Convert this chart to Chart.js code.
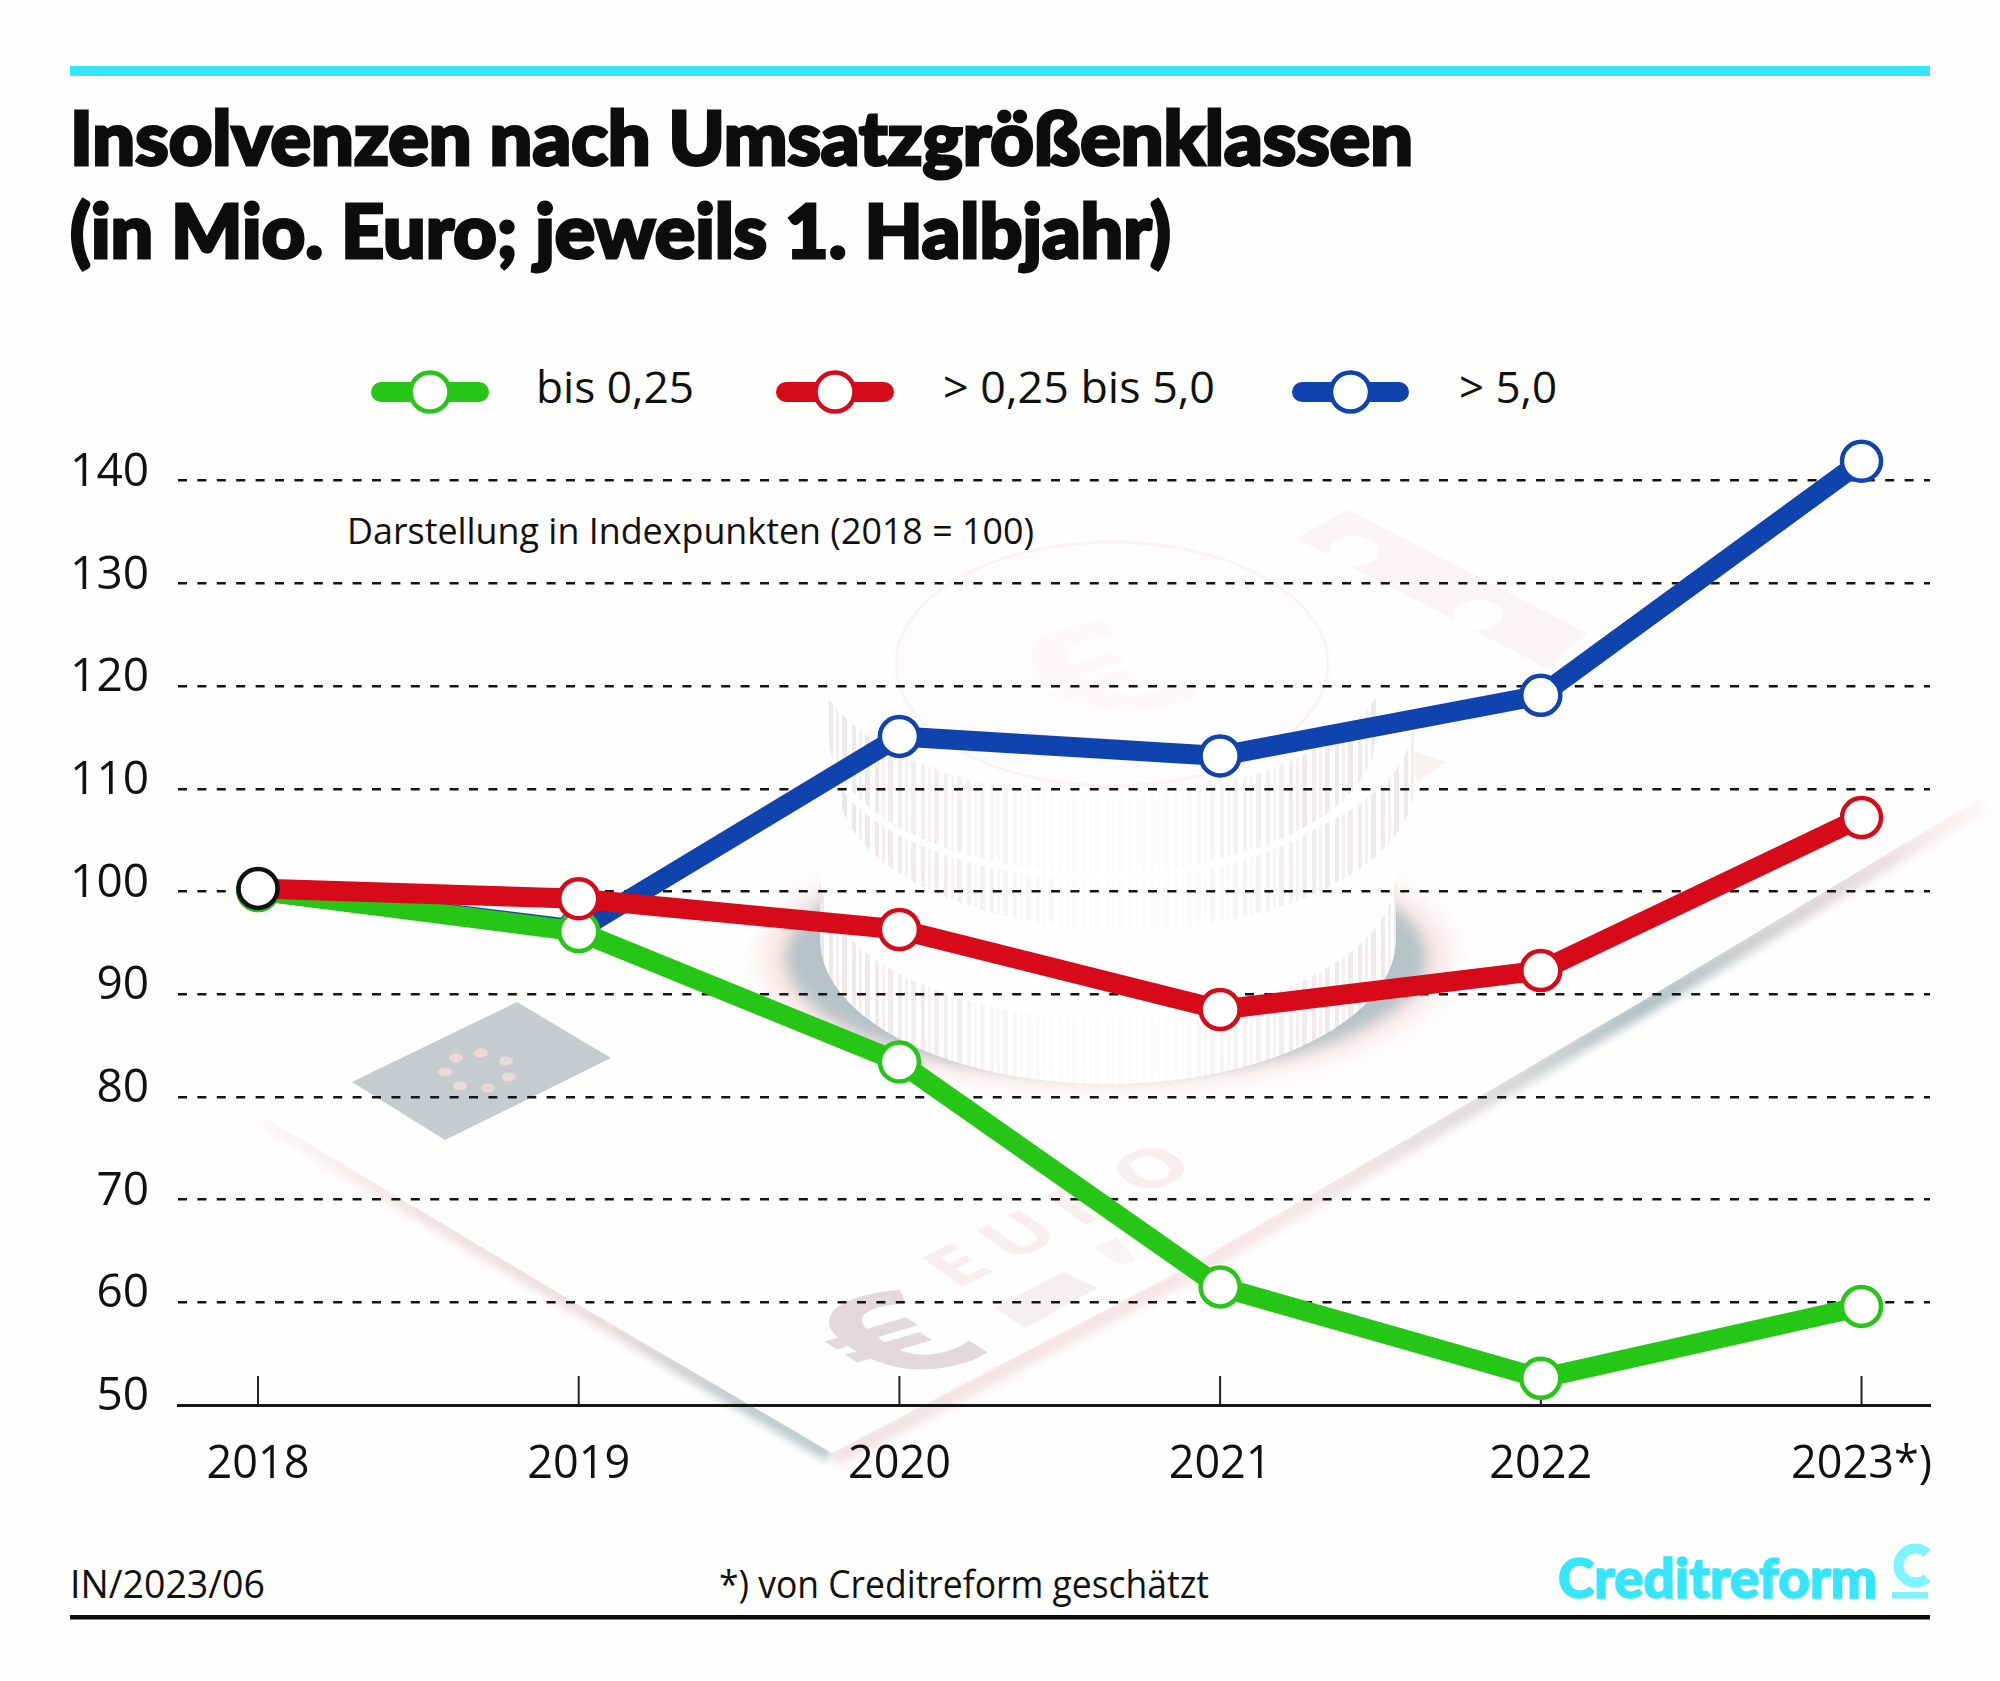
<!DOCTYPE html>
<html lang="de">
<head>
<meta charset="utf-8">
<title>Insolvenzen nach Umsatzgrößenklassen</title>
<script src="https://cdn.jsdelivr.net/npm/chart.js@4"></script>
<style>
  html, body { margin: 0; padding: 0; background: #fefefd; }
  #stage { position: relative; width: 2000px; height: 1681px; overflow: hidden; }
  #stage svg, #stage canvas { position: absolute; left: 0; top: 0; }
  .title { font: 900 74px Lato, sans-serif; fill: #0d0d0d; stroke: #0d0d0d; stroke-width: 3px; }
  .body { font-family: "Open Sans", sans-serif; fill: #111; }
</style>
</head>
<body>
<div id="stage">
  <svg id="art" width="2000" height="1681" viewBox="0 0 2000 1681" xmlns="http://www.w3.org/2000/svg">
    <defs>
      <filter id="blur3" x="-20%" y="-20%" width="140%" height="140%"><feGaussianBlur stdDeviation="5"/></filter>
      <filter id="blur6" x="-20%" y="-20%" width="140%" height="140%"><feGaussianBlur stdDeviation="7"/></filter>
      <filter id="blur14" x="-20%" y="-20%" width="140%" height="140%"><feGaussianBlur stdDeviation="12"/></filter>
      <pattern id="stripes" width="23" height="10" patternUnits="userSpaceOnUse">
        <rect width="23" height="10" fill="#fff"/>
        <rect x="1" width="4" height="10" fill="#e9d9da"/>
        <rect x="8" width="3" height="10" fill="#efe3e4"/>
        <rect x="14" width="5" height="10" fill="#e4dadc"/>
      </pattern>
      <linearGradient id="fade" x1="0" x2="1" y1="0" y2="0">
        <stop offset="0" stop-color="#fff" stop-opacity=".35"/>
        <stop offset=".18" stop-color="#fff" stop-opacity=".5"/>
        <stop offset=".42" stop-color="#fff" stop-opacity=".9"/>
        <stop offset=".6" stop-color="#fff" stop-opacity=".88"/>
        <stop offset=".85" stop-color="#fff" stop-opacity=".45"/>
        <stop offset="1" stop-color="#fff" stop-opacity=".4"/>
      </linearGradient>
      <linearGradient id="edgeL" gradientUnits="userSpaceOnUse" x1="266" y1="1118" x2="832" y2="1453">
        <stop offset="0" stop-color="#f0dcdc" stop-opacity=".2"/>
        <stop offset=".3" stop-color="#f0dfdf"/>
        <stop offset=".6" stop-color="#ecdcdc"/>
        <stop offset=".82" stop-color="#bcc8cb"/>
        <stop offset="1" stop-color="#b8c6c9"/>
      </linearGradient>
      <linearGradient id="edgeR" gradientUnits="userSpaceOnUse" x1="832" y1="1453" x2="1982" y2="797">
        <stop offset="0" stop-color="#f3e1e2"/>
        <stop offset=".4" stop-color="#f6e6e6"/>
        <stop offset=".56" stop-color="#dfdcdc"/>
        <stop offset=".7" stop-color="#aebfc3"/>
        <stop offset=".82" stop-color="#d6d2d3"/>
        <stop offset=".92" stop-color="#efe0e0"/>
        <stop offset="1" stop-color="#f8e8e8" stop-opacity=".3"/>
      </linearGradient>
    </defs>

    <!-- Hintergrund: Geldschein -->
    <polyline points="266,1118 572,1301 832,1453" fill="none" stroke="url(#edgeL)" stroke-width="14" filter="url(#blur3)" transform="translate(-2,2)"/>
    <polyline points="832,1453 1182,1270 1400,1143 1656,993 1982,797" fill="none" stroke="url(#edgeR)" stroke-width="18" filter="url(#blur3)" transform="translate(2,5)"/>
    <polygon points="266,1118 572,1301 832,1453 1182,1270 1400,1143 1656,993 1982,797 1500,700 900,800" fill="#fefefd"/>
    <polygon points="517,1002 611,1058 445,1140 352,1082" fill="#c6cbce"/>
    <g fill="#e9d9d9">
      <ellipse cx="456" cy="1058" rx="7" ry="4.5"/><ellipse cx="481" cy="1053" rx="7" ry="4.5"/><ellipse cx="506" cy="1061" rx="7" ry="4.5"/>
      <ellipse cx="509" cy="1077" rx="7" ry="4.5"/><ellipse cx="488" cy="1088" rx="7" ry="4.5"/><ellipse cx="460" cy="1086" rx="7" ry="4.5"/><ellipse cx="445" cy="1072" rx="7" ry="4.5"/>
    </g>
    <text transform="matrix(1.12,-.34,.8,.52,884,1386)" font-family="Open Sans" font-weight="700" font-size="176" fill="#e3d8da">€</text>
    <text transform="matrix(.92,-.46,.72,.52,956,1290)" font-family="Open Sans" font-weight="700" font-size="78" letter-spacing="16" fill="#f8eeee">EURO</text>
    <polygon points="994,1308 1063,1272 1098,1288 1025,1328" fill="#f5f0f0"/>
    <polygon points="1094,1247 1117,1237 1136,1260 1120,1265" fill="#f9f3f3"/>

    <!-- Hintergrund: Streifen oben rechts -->
    <polygon points="1348,510 1296,538 1548,669 1587,633" fill="#fbf4f4"/>
    <ellipse cx="1354" cy="551" rx="25" ry="15" fill="#fefefd"/>
    <ellipse cx="1478" cy="615" rx="25" ry="15" fill="#fefefd"/>
    <polygon points="1403,747 1445,762 1418,782" fill="#faf1f1"/>

    <!-- Hintergrund: Münzstapel -->
    <ellipse cx="1106" cy="958" rx="345" ry="128" fill="#f8e4e4" filter="url(#blur14)"/>
    <ellipse cx="1106" cy="958" rx="320" ry="118" fill="#b6c3c6" filter="url(#blur6)"/>
    <g id="coinC">
      <path d="M820,874 V939 A288,145 0 0 0 1396,939 V874 Z" fill="url(#stripes)"/>
      <path d="M820,874 V939 A288,145 0 0 0 1396,939 V874 Z" fill="url(#fade)"/>
      <ellipse cx="1108" cy="874" rx="288" ry="145" fill="#fefefe"/>
    </g>
    <g id="coinB">
      <path d="M838,719 V784 A288,145 0 0 0 1414,784 V719 Z" fill="url(#stripes)"/>
      <path d="M838,719 V784 A288,145 0 0 0 1414,784 V719 Z" fill="url(#fade)"/>
      <ellipse cx="1126" cy="719" rx="288" ry="145" fill="#fefefe"/>
    </g>
    <g id="coinA">
      <path d="M825,650 V736 A277,140 0 0 0 1379,736 V650 Z" fill="url(#stripes)"/>
      <path d="M825,650 V736 A277,140 0 0 0 1379,736 V650 Z" fill="url(#fade)"/>
      <path d="M825,736 A277,140 0 0 0 1379,736" fill="none" stroke="#fff" stroke-width="7"/>
      <ellipse cx="1102" cy="650" rx="290" ry="146" fill="#fefefe"/>
      <ellipse cx="1112" cy="664" rx="216" ry="122" fill="#fefcfc" stroke="#fbf3f3" stroke-width="3"/>
      <text transform="matrix(1,-.32,.72,.5,1090,730)" font-family="Open Sans" font-weight="700" font-size="210" fill="#fdf9f9">€</text>
    </g>

    <!-- Rahmen und Texte -->
    <rect x="70" y="66" width="1860" height="10" fill="#35e6fc"/>
    <text class="title" x="70" y="165" textLength="1343" lengthAdjust="spacingAndGlyphs">Insolvenzen nach Umsatzgrößenklassen</text>
    <text class="title" x="70" y="258" textLength="1101" lengthAdjust="spacingAndGlyphs">(in Mio. Euro; jeweils 1. Halbjahr)</text>
    <text class="body" x="347" y="544" font-size="36" textLength="687" lengthAdjust="spacingAndGlyphs">Darstellung in Indexpunkten (2018 = 100)</text>
    <text class="body" x="70" y="1598" font-size="38" textLength="195" lengthAdjust="spacingAndGlyphs">IN/2023/06</text>
    <text class="body" x="719" y="1598" font-size="38" textLength="490" lengthAdjust="spacingAndGlyphs">*) von Creditreform geschätzt</text>
    <rect x="70" y="1615" width="1860" height="4.5" fill="#0a0a0a"/>
    <text x="1558" y="1598" font-family="Lato" font-weight="900" font-size="55" fill="#34e6fc" stroke="#34e6fc" stroke-width="1.5" textLength="319" lengthAdjust="spacingAndGlyphs">Creditreform</text>
    <path d="M1927,1553 A17,17 0 1 0 1927,1578" fill="none" stroke="#7df4ff" stroke-width="10"/>
    <rect x="1892" y="1592" width="36" height="6.5" fill="#7df4ff"/>
  </svg>
  <canvas id="chart" width="2000" height="1681"></canvas>
</div>
<script>
const years = [2018, 2019, 2020, 2021, 2022, 2023];
const yearLabels = ['2018', '2019', '2020', '2021', '2022', '2023*)'];
const yTicks = [50, 60, 70, 80, 90, 100, 110, 120, 130, 140];

const smallValues = [100.1, 96.1, 83.4, 61.5, 52.6, 59.6];
const midValues = [100.3, 99.3, 96.3, 88.5, 92.3, 107.2];
const bigValues = [100.1, 96.25, 115.1, 113.2, 119.1, 141.9];

const seriesNames = ['bis 0,25', '> 0,25 bis 5,0', '> 5,0'];
const GREEN = '#26c616', RED = '#d60a19', BLUE = '#0f44ae';

const toPoints = vals => vals.map((v, i) => ({ x: years[i], y: v }));

function lineSet(label, vals, color, order, firstBorder) {
  return {
    label, order,
    data: toPoints(vals),
    borderColor: color,
    borderWidth: 20,
    tension: 0,
    pointRadius: 19.5,
    pointHoverRadius: 19.5,
    pointBorderWidth: 4.5,
    pointBackgroundColor: '#fff',
    pointBorderColor: firstBorder ? vals.map((_, i) => i === 0 ? firstBorder : color) : color
  };
}

/* kleine senkrechte Striche über der Achse, unter den Linien */
const innerTicks = {
  id: 'innerTicks',
  beforeDatasetsDraw(chart) {
    const { ctx, scales: { x, y } } = chart;
    const bottom = y.getPixelForValue(50);
    ctx.save();
    ctx.strokeStyle = '#222';
    ctx.lineWidth = 2;
    years.forEach(yr => {
      const px = x.getPixelForValue(yr);
      ctx.beginPath();
      ctx.moveTo(px, bottom - 29);
      ctx.lineTo(px, bottom);
      ctx.stroke();
    });
    ctx.restore();
  }
};

new Chart(document.getElementById('chart'), {
  type: 'line',
  data: {
    datasets: [
      lineSet(seriesNames[0], smallValues, GREEN, 2),
      lineSet(seriesNames[1], midValues, RED, 1, '#111'),
      lineSet(seriesNames[2], bigValues, BLUE, 3)
    ]
  },
  options: {
    responsive: false,
    animation: false,
    devicePixelRatio: 1,
    layout: { padding: { left: 0, top: 378, right: 70, bottom: 176 } },
    plugins: { legend: { display: false }, title: { display: false }, tooltip: { enabled: false } },
    scales: {
      x: {
        type: 'linear',
        min: 2017.7505,
        max: 2023.2136,
        afterBuildTicks: s => { s.ticks = years.map(v => ({ value: v })); },
        afterFit: s => { s.height = 100; },
        grid: { display: false, drawTicks: false },
        border: { display: true, color: '#151515', width: 3 },
        ticks: {
          autoSkip: false, maxRotation: 0, padding: 33, color: '#111',
          font: { family: 'Open Sans', size: 45 },
          callback: v => yearLabels[years.indexOf(v)]
        }
      },
      y: {
        min: 50,
        max: 150,
        afterBuildTicks: s => { s.ticks = yTicks.map(v => ({ value: v })); },
        afterFit: s => { s.width = 178; },
        grid: {
          drawTicks: false,
          color: c => c.tick.value === 50 ? 'transparent' : '#141414',
          lineWidth: 2.5
        },
        border: { display: false, dash: [9, 10.4] },
        ticks: {
          padding: 29, labelOffset: -8, color: '#111',
          font: { family: 'Open Sans', size: 46 },
          callback: v => String(v)
        }
      }
    }
  },
  plugins: [innerTicks]
});

/* Legende aus den Seriennamen aufbauen */
const NS = 'http://www.w3.org/2000/svg';
const art = document.getElementById('art');
const legendColors = [GREEN, RED, BLUE];
const legendLine = [[372, 488], [777, 893], [1293, 1408]];
const legendText = [[536, 158], [943, 272], [1459, 98]];
function svgEl(name, attrs, text) {
  const n = document.createElementNS(NS, name);
  Object.keys(attrs).forEach(k => n.setAttribute(k, attrs[k]));
  if (text) n.textContent = text;
  art.appendChild(n);
}
seriesNames.forEach((name, i) => {
  const [x0, x1] = legendLine[i];
  svgEl('line', { x1: x0 + 9, x2: x1 - 9, y1: 392, y2: 392, stroke: legendColors[i], 'stroke-width': 20, 'stroke-linecap': 'round' });
  svgEl('circle', { cx: (x0 + x1) / 2, cy: 392, r: 19.5, fill: '#fff', stroke: legendColors[i], 'stroke-width': 4.5 });
  svgEl('text', { class: 'body', x: legendText[i][0], y: 403, 'font-size': 44, textLength: legendText[i][1], lengthAdjust: 'spacingAndGlyphs' }, name);
});
</script>
</body>
</html>
